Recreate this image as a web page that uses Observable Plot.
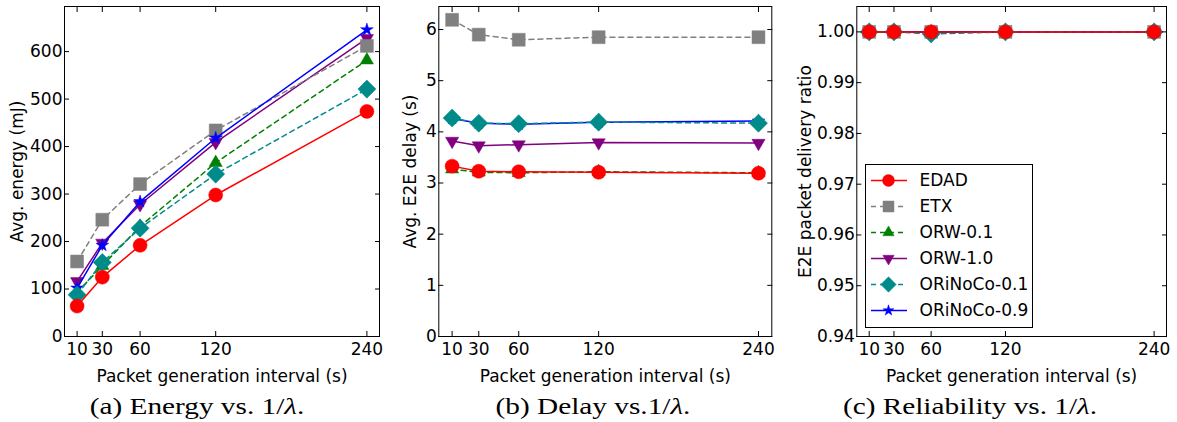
<!DOCTYPE html>
<html><head><meta charset="utf-8">
<script src="https://cdn.jsdelivr.net/npm/d3@7"></script>
<script src="https://cdn.jsdelivr.net/npm/@observablehq/plot@0.6"></script>
<style>
body{margin:0;background:#fff;width:1177px;height:422px;position:relative;overflow:hidden;font-family:"DejaVu Sans"}
.panel{position:absolute;top:0}
.panel svg{overflow:visible}
.cap{position:absolute;top:392px;line-height:28px;font-family:"Liberation Serif";font-size:24px;white-space:nowrap;transform:translateX(-50%) scaleX(1.22)}
#legend{position:absolute;left:865px;top:164px;width:166px;height:162px;border:1px solid #000;background:#fff}
</style></head><body>
<div id="pa" class="panel" style="left:0"></div>
<div id="pb" class="panel" style="left:390px"></div>
<div id="pc" class="panel" style="left:780px"></div>
<div id="legend"></div>
<div class="cap" style="left:197px">(a) Energy vs. 1/<i>λ</i>.</div>
<div class="cap" style="left:593px">(b) Delay vs.1/<i>λ</i>.</div>
<div class="cap" style="left:970px">(c) Reliability vs. 1/<i>λ</i>.</div>
<script>
// ---- data ----
const intervals = [10, 30, 60, 120, 240];
const seriesNames = ["EDAD", "ETX", "ORW-0.1", "ORW-1.0", "ORiNoCo-0.1", "ORiNoCo-0.9"];

const energyEDAD = [64, 125, 192, 298, 474];
const energyETX = [158, 246, 321, 434, 612];
const energyORW01 = [93, 149, 232, 366, 582];
const energyORW10 = [116, 197, 278, 409, 628];
const energyORiNoCo01 = [88, 156, 228, 342, 521];
const energyORiNoCo09 = [102, 192, 284, 418, 646];

const delayEDAD = [3.33, 3.23, 3.22, 3.21, 3.19];
const delayETX = [6.19, 5.90, 5.80, 5.85, 5.85];
const delayORW01 = [3.27, 3.21, 3.20, 3.22, 3.20];
const delayORW10 = [3.82, 3.73, 3.75, 3.79, 3.78];
const delayORiNoCo01 = [4.27, 4.17, 4.16, 4.19, 4.17];
const delayORiNoCo09 = [4.26, 4.17, 4.15, 4.19, 4.21];

const pdrEDAD = [1, 1, 1, 1, 1];
const pdrETX = [1, 1, 1, 1, 1];
const pdrORW01 = [1, 1, 1, 1, 1];
const pdrORW10 = [1, 1, 1, 1, 1];
const pdrORiNoCo01 = [1, 1, 0.9996, 1, 1];
const pdrORiNoCo09 = [1, 1, 1, 1, 1];

const energyTicks = [0, 100, 200, 300, 400, 500, 600];
const delayTicks = [0, 1, 2, 3, 4, 5, 6];
const pdrTicks = [0.94, 0.95, 0.96, 0.97, 0.98, 0.99, 1.00];

// ---- styles ----
const colors = ["red", "grey", "green", "purple", "darkcyan", "blue"];
const dashes = [null, "5,4", "5,4", null, "5,4", null];
const symbols = ["circle", "square", "triangle", "triangle", "square", "star"];
const rotations = [0, 0, 0, 180, 45, 0];
const radii = [7, 7.3, 4.9, 4.9, 7.2, 4.0];
const drawOrder = [3, 1, 2, 5, 4, 0];

function panel(el, values, o) {
  const marks = [];
  for (const i of drawOrder) {
    const data = intervals.map((x, j) => ({x, y: values[i][j]}));
    marks.push(Plot.line(data, {x: "x", y: "y", stroke: colors[i], strokeWidth: 1.5, strokeDasharray: dashes[i]}));
    marks.push(Plot.dot(data, {x: "x", y: "y", symbol: symbols[i], r: radii[i], rotate: rotations[i], fill: colors[i], stroke: colors[i], strokeWidth: 0.5}));
  }
  marks.push(
    Plot.frame({stroke: "black"}),
    Plot.axisX(intervals, {anchor: "bottom", tickSize: -5, tickPadding: 11, label: "Packet generation interval (s)", labelAnchor: "center", labelArrow: "none", labelOffset: 45}),
    Plot.axisX(intervals, {anchor: "top", tickSize: -5, tickFormat: () => "", label: null}),
    Plot.axisY(o.ticks, {anchor: "left", tickSize: -5, tickPadding: 7, tickFormat: o.fmt, label: o.label, labelAnchor: "center", labelArrow: "none", labelOffset: o.labelOffset}),
    Plot.axisY(o.ticks, {anchor: "right", tickSize: -5, tickFormat: () => "", label: null})
  );
  const chart = Plot.plot({
    width: o.width, height: 385,
    marginLeft: o.ml, marginRight: o.mr, marginTop: 6, marginBottom: 49,
    style: {fontFamily: "DejaVu Sans", fontSize: "17px", background: "white", color: "black", overflow: "visible"},
    x: {domain: [0, 250]},
    y: {domain: o.domain},
    marks
  });
  document.getElementById(el).append(chart);
}

panel("pa", [energyEDAD, energyETX, energyORW01, energyORW10, energyORiNoCo01, energyORiNoCo09],
  {width: 390, ml: 64, mr: 11, domain: [0, 695], ticks: energyTicks, fmt: d3.format("d"), label: "Avg. energy (mJ)", labelOffset: 54});
panel("pb", [delayEDAD, delayETX, delayORW01, delayORW10, delayORiNoCo01, delayORiNoCo09],
  {width: 390, ml: 48.3, mr: 8.7, domain: [0, 6.45], ticks: delayTicks, fmt: d3.format("d"), label: "Avg. E2E delay (s)", labelOffset: 35});
panel("pc", [pdrEDAD, pdrETX, pdrORW01, pdrORW10, pdrORiNoCo01, pdrORiNoCo09],
  {width: 397, ml: 76.3, mr: 11, domain: [0.94, 1.005], ticks: pdrTicks, fmt: d3.format(".2f"), label: "E2E packet delivery ratio", labelOffset: 58});

// ---- legend ----
const lmarks = [];
seriesNames.forEach((name, i) => {
  lmarks.push(Plot.ruleY([name], {y: d => d, insetLeft: 5, insetRight: 125, stroke: colors[i], strokeWidth: 1.5, strokeDasharray: dashes[i]}));
  lmarks.push(Plot.dot([name], {y: d => d, frameAnchor: "left", dx: 22, symbol: symbols[i], r: radii[i] * 0.85, rotate: rotations[i], fill: colors[i], stroke: colors[i], strokeWidth: 0.5}));
});
lmarks.push(Plot.text(seriesNames, {y: d => d, text: d => d, frameAnchor: "left", dx: 53, textAnchor: "start", fontSize: 17, fill: "black"}));
document.getElementById("legend").append(Plot.plot({
  width: 166, height: 162, marginLeft: 0, marginRight: 0, marginTop: 14, marginBottom: 17,
  style: {fontFamily: "DejaVu Sans", fontSize: "17px", background: "white", overflow: "visible"},
  x: {domain: [0, 1], axis: null},
  y: {type: "point", domain: seriesNames, padding: 0, axis: null},
  marks: lmarks
}));
</script>
</body></html>
